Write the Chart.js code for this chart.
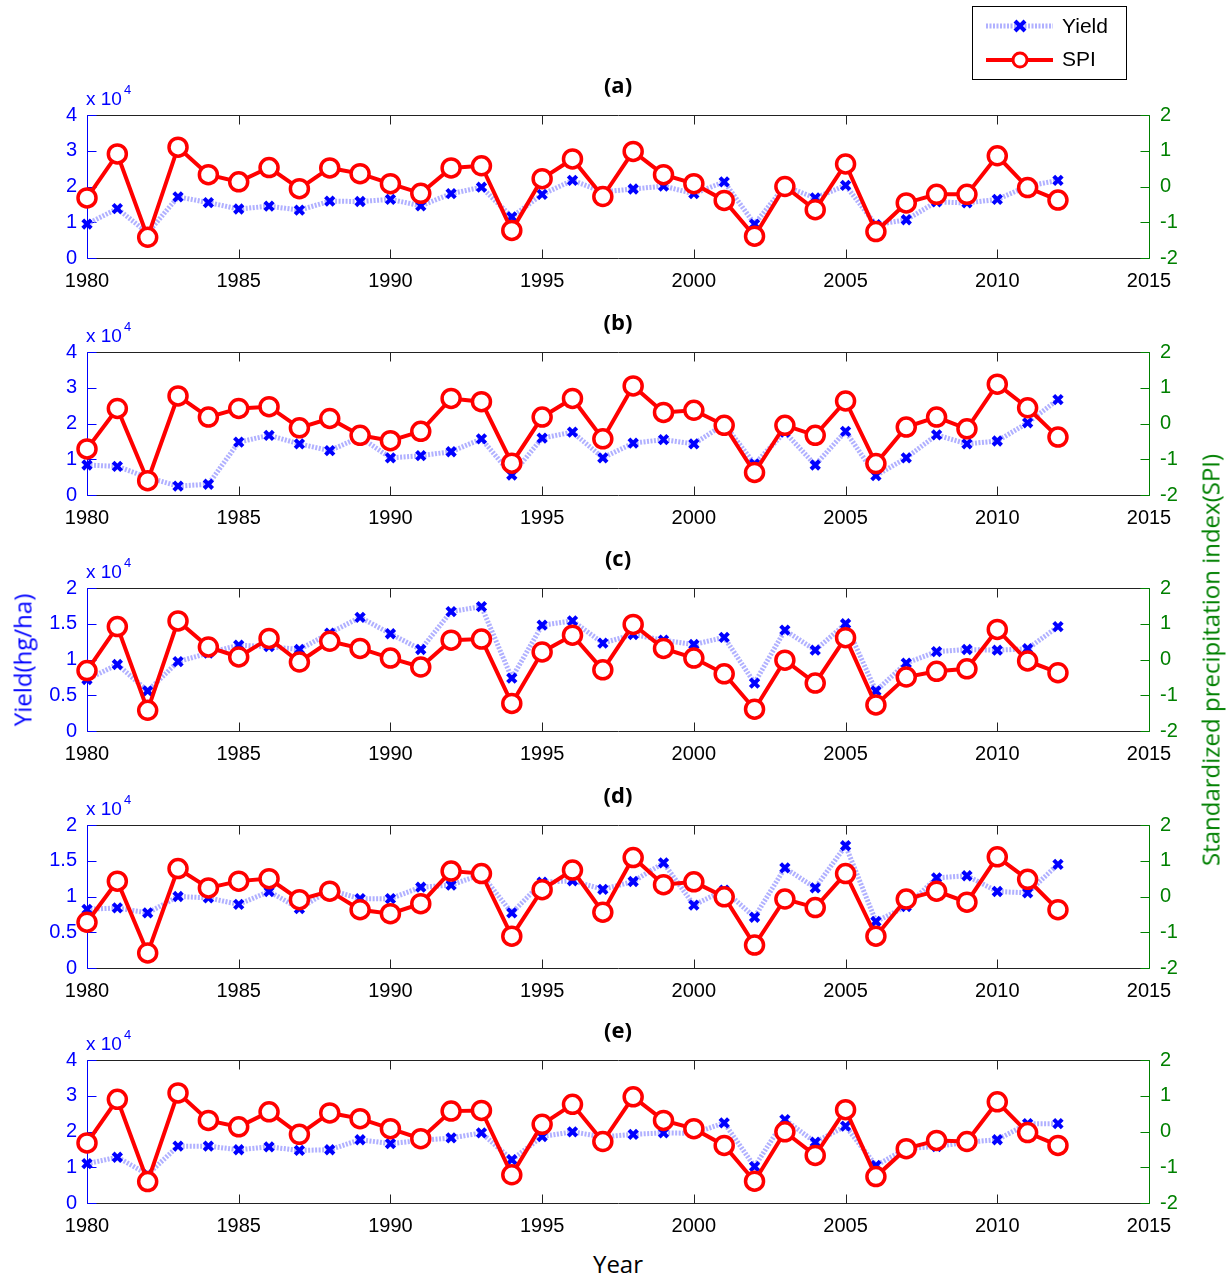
<!DOCTYPE html>
<html>
<head>
<meta charset="utf-8">
<script src="https://cdn.jsdelivr.net/npm/chart.js@4.4.0/dist/chart.umd.min.js"></script>
<style>
  body { margin: 0; background: #fff; width: 1231px; height: 1276px; position: relative; overflow: hidden; }
  .panel { position: absolute; left: 0; width: 1231px; height: 300px; }
  .lab { position: absolute; font-family: 'Open Sans', sans-serif; font-size: 24px; white-space: nowrap; }
  .rot { transform: translate(-50%, -50%) rotate(-90deg); }
</style>
</head>
<body>
<div class="panel" style="top:0px"><canvas id="chartA" width="1231" height="300"></canvas></div>
<div class="panel" style="top:237px"><canvas id="chartB" width="1231" height="300"></canvas></div>
<div class="panel" style="top:473px"><canvas id="chartC" width="1231" height="300"></canvas></div>
<div class="panel" style="top:710px"><canvas id="chartD" width="1231" height="300"></canvas></div>
<div class="panel" style="top:945px"><canvas id="chartE" width="1231" height="300"></canvas></div>

<div class="lab rot" style="left:22px; top:660px; color:#0000ff">Yield(hg/ha)</div>
<div class="lab rot" style="left:1210px; top:660px; color:#008000">Standardized precipitation index(SPI)</div>
<div class="lab" style="left:618px; top:1263px; transform:translate(-50%,-50%); color:#000">Year</div>

<script>
const years = [1980, 1981, 1982, 1983, 1984, 1985, 1986, 1987, 1988, 1989, 1990,
  1991, 1992, 1993, 1994, 1995, 1996, 1997, 1998, 1999, 2000, 2001, 2002, 2003,
  2004, 2005, 2006, 2007, 2008, 2009, 2010, 2011, 2012];

// yield in hg/ha, SPI unitless
const yieldA = [9500, 13800, 7000, 17100, 15500, 13700, 14500, 13400, 15900, 15800, 16400,
  14600, 18000, 19800, 11500, 17800, 21700, 18500, 19300, 20100, 18000, 21300, 9500, 20100,
  16800, 20300, 9300, 10700, 15700, 15400, 16400, 20100, 21700];
const spiA = [-0.32, 0.91, -1.42, 1.10, 0.33, 0.13, 0.53, -0.06, 0.52, 0.36, 0.08,
  -0.19, 0.52, 0.58, -1.23, 0.22, 0.77, -0.28, 0.98, 0.33, 0.08, -0.39, -1.39, 0.0,
  -0.65, 0.63, -1.26, -0.46, -0.22, -0.22, 0.86, -0.03, -0.38];

const yieldB = [8400, 8000, 4900, 2500, 3000, 14800, 16700, 14300, 12400, 16200, 10400,
  11000, 12100, 15700, 5600, 15900, 17600, 10400, 14500, 15500, 14300, 19800, 8700, 17600,
  8400, 17800, 5400, 10400, 16800, 14300, 15100, 20200, 26700];
const spiB = [-0.71, 0.42, -1.60, 0.77, 0.18, 0.42, 0.47, -0.12, 0.14, -0.33, -0.48,
  -0.22, 0.70, 0.61, -1.11, 0.18, 0.70, -0.43, 1.05, 0.31, 0.37, -0.05, -1.37, -0.05,
  -0.33, 0.63, -1.12, -0.10, 0.18, -0.15, 1.10, 0.44, -0.38];

const yieldC = [7200, 9300, 5600, 9700, 10900, 12000, 11800, 11400, 13700, 15900, 13600,
  11400, 16700, 17400, 7400, 14800, 15400, 12300, 13500, 12700, 12100, 13100, 6700, 14100,
  11300, 15000, 5600, 9500, 11100, 11400, 11300, 11500, 14600];
const spiC = [-0.31, 0.92, -1.42, 1.08, 0.35, 0.07, 0.59, -0.07, 0.51, 0.31, 0.04,
  -0.21, 0.54, 0.57, -1.23, 0.21, 0.68, -0.29, 0.98, 0.31, 0.04, -0.40, -1.39, -0.02,
  -0.66, 0.61, -1.27, -0.49, -0.33, -0.26, 0.84, -0.04, -0.37];

const yieldD = [8200, 8400, 7700, 10000, 9800, 8900, 10700, 8300, 10900, 9700, 9700,
  11300, 11600, 13100, 7700, 12000, 12200, 11000, 12100, 14700, 8800, 10900, 7100, 14000,
  11200, 17100, 6500, 8600, 12600, 12900, 10700, 10500, 14500];
const spiD = [-0.72, 0.43, -1.58, 0.78, 0.24, 0.43, 0.50, -0.09, 0.15, -0.37, -0.48,
  -0.20, 0.71, 0.64, -1.11, 0.19, 0.74, -0.44, 1.09, 0.33, 0.41, -0.01, -1.36, -0.07,
  -0.31, 0.64, -1.11, -0.07, 0.15, -0.16, 1.11, 0.48, -0.37];

const yieldE = [11000, 12800, 8000, 15900, 15900, 14900, 15700, 14700, 14900, 17700, 16600,
  17500, 18200, 19600, 12100, 18600, 19900, 18500, 19200, 19600, 19500, 22400, 10200, 23300,
  17000, 21500, 10500, 15200, 15800, 17000, 17700, 22200, 22200];
const spiE = [-0.32, 0.90, -1.40, 1.08, 0.31, 0.13, 0.55, -0.08, 0.52, 0.36, 0.08,
  -0.20, 0.57, 0.59, -1.21, 0.20, 0.76, -0.28, 0.97, 0.31, 0.08, -0.39, -1.39, -0.01,
  -0.67, 0.61, -1.26, -0.48, -0.25, -0.28, 0.83, -0.03, -0.39];

const panelTitles = ['(a)', '(b)', '(c)', '(d)', '(e)'];
const yieldMax = [40000, 40000, 20000, 20000, 40000];
const yieldStep = [10000, 10000, 5000, 5000, 10000];

const BLUE = '#0000ff';
const GREEN = '#008000';
const TICK_FONT = { family: "'Liberation Sans', Arial, sans-serif", size: 20 };

function line(ctx, x1, y1, x2, y2) {
  ctx.beginPath();
  ctx.moveTo(x1, y1);
  ctx.lineTo(x2, y2);
  ctx.stroke();
}

// matlab style box: inward ticks, coloured y axes, title and exponent label
const matlabAxes = {
  id: 'matlabAxes',
  beforeDatasetsDraw(chart) {
    const { ctx, chartArea: a, scales } = chart;
    const L = Math.round(a.left) + 0.5, R = Math.round(a.right) + 0.5;
    const T = Math.round(a.top) + 0.5, B = Math.round(a.bottom) + 0.5;
    ctx.save();
    ctx.lineWidth = 1;
    ctx.strokeStyle = '#222';
    scales.x.ticks.forEach(t => {
      const px = Math.round(scales.x.getPixelForValue(t.value)) + 0.5;
      line(ctx, px, B, px, B - 9);
      line(ctx, px, T, px, T + 9);
    });
    line(ctx, L, T, R, T);
    line(ctx, L, B, R, B);
    ctx.strokeStyle = BLUE;
    scales.y.ticks.forEach(t => {
      const py = Math.round(scales.y.getPixelForValue(t.value)) + 0.5;
      line(ctx, L, py, L + 9, py);
    });
    line(ctx, L, T, L, B);
    ctx.strokeStyle = GREEN;
    scales.y2.ticks.forEach(t => {
      const py = Math.round(scales.y2.getPixelForValue(t.value)) + 0.5;
      line(ctx, R, py, R - 9, py);
    });
    line(ctx, R, T, R, B);
    ctx.restore();
  },
  afterDraw(chart, args, opts) {
    const { ctx, chartArea: a } = chart;
    ctx.save();
    ctx.fillStyle = '#000';
    ctx.font = "bold 22px 'Open Sans', sans-serif";
    ctx.textAlign = 'center';
    ctx.textBaseline = 'middle';
    ctx.fillText(opts.title, (a.left + a.right) / 2, a.top - 28);

    ctx.fillStyle = BLUE;
    ctx.textAlign = 'left';
    ctx.textBaseline = 'alphabetic';
    ctx.font = "19px 'Liberation Sans', Arial, sans-serif";
    ctx.fillText('x 10', a.left - 1, a.top - 10);
    const w = ctx.measureText('x 10').width;
    ctx.font = "13px 'Liberation Sans', Arial, sans-serif";
    ctx.fillText('4', a.left + w + 1, a.top - 21);

    if (opts.legend) {
      ctx.strokeStyle = '#000';
      ctx.lineWidth = 1;
      ctx.fillStyle = '#fff';
      ctx.fillRect(972.5, 6.5, 154, 73);
      ctx.strokeRect(972.5, 6.5, 154, 73);
      // yield sample
      ctx.strokeStyle = 'rgba(150,150,255,0.75)';
      ctx.lineWidth = 5;
      ctx.setLineDash([2, 1.5]);
      line(ctx, 986, 26, 1053, 26);
      ctx.setLineDash([]);
      ctx.strokeStyle = BLUE;
      ctx.lineWidth = 4;
      line(ctx, 1015, 21, 1025, 31);
      line(ctx, 1015, 31, 1025, 21);
      // spi sample
      ctx.strokeStyle = '#ff0000';
      ctx.lineWidth = 4;
      line(ctx, 986, 60, 1053, 60);
      ctx.fillStyle = '#fff';
      ctx.lineWidth = 3;
      ctx.beginPath();
      ctx.arc(1020, 60, 7, 0, Math.PI * 2);
      ctx.fill();
      ctx.stroke();
      ctx.fillStyle = '#000';
      ctx.font = "21px 'Liberation Sans', Arial, sans-serif";
      ctx.textBaseline = 'middle';
      ctx.fillText('Yield', 1062, 27);
      ctx.fillText('SPI', 1062, 60);
    }
    ctx.restore();
  }
};

function makePanel(id, i, yields, spi) {
  const ctx = document.getElementById(id).getContext('2d');
  return new Chart(ctx, {
    type: 'line',
    data: {
      datasets: [
        {
          label: 'SPI',
          data: years.map((y, k) => ({ x: y, y: spi[k] })),
          yAxisID: 'y2',
          borderColor: '#ff0000',
          borderWidth: 4,
          pointStyle: 'circle',
          pointRadius: 9,
          pointBorderWidth: 3.5,
          pointBackgroundColor: '#fff',
          pointBorderColor: '#ff0000',
          order: 0
        },
        {
          label: 'Yield',
          data: years.map((y, k) => ({ x: y, y: yields[k] })),
          yAxisID: 'y',
          borderColor: 'rgba(150,150,255,0.75)',
          borderWidth: 5,
          borderDash: [2, 1.5],
          pointStyle: 'crossRot',
          pointRadius: 6,
          pointBorderWidth: 4,
          pointBorderColor: BLUE,
          order: 1
        }
      ]
    },
    options: {
      responsive: false,
      animation: false,
      devicePixelRatio: 1,
      clip: false,
      layout: { padding: { top: 115, left: 0, right: 0, bottom: 0 } },
      plugins: {
        legend: { display: false },
        tooltip: { enabled: false },
        matlabAxes: { title: panelTitles[i], legend: i === 0 }
      },
      scales: {
        x: {
          type: 'linear',
          min: 1980,
          max: 2015,
          grid: { display: false },
          border: { display: false },
          ticks: { stepSize: 5, padding: 3, color: '#000', font: TICK_FONT, callback: v => String(v), maxRotation: 0 },
          afterFit: s => { s.height = 42; }
        },
        y: {
          position: 'left',
          min: 0,
          max: yieldMax[i],
          grid: { display: false },
          border: { display: false },
          ticks: { stepSize: yieldStep[i], padding: 2, color: BLUE, font: TICK_FONT, callback: v => String(v / 10000) },
          afterFit: s => { s.width = 87; }
        },
        y2: {
          position: 'right',
          min: -2,
          max: 2,
          grid: { display: false },
          border: { display: false },
          ticks: { stepSize: 1, padding: 3, color: GREEN, font: TICK_FONT },
          afterFit: s => { s.width = 82; }
        }
      }
    },
    plugins: [matlabAxes]
  });
}

makePanel('chartA', 0, yieldA, spiA);
makePanel('chartB', 1, yieldB, spiB);
makePanel('chartC', 2, yieldC, spiC);
makePanel('chartD', 3, yieldD, spiD);
makePanel('chartE', 4, yieldE, spiE);
</script>
</body>
</html>
